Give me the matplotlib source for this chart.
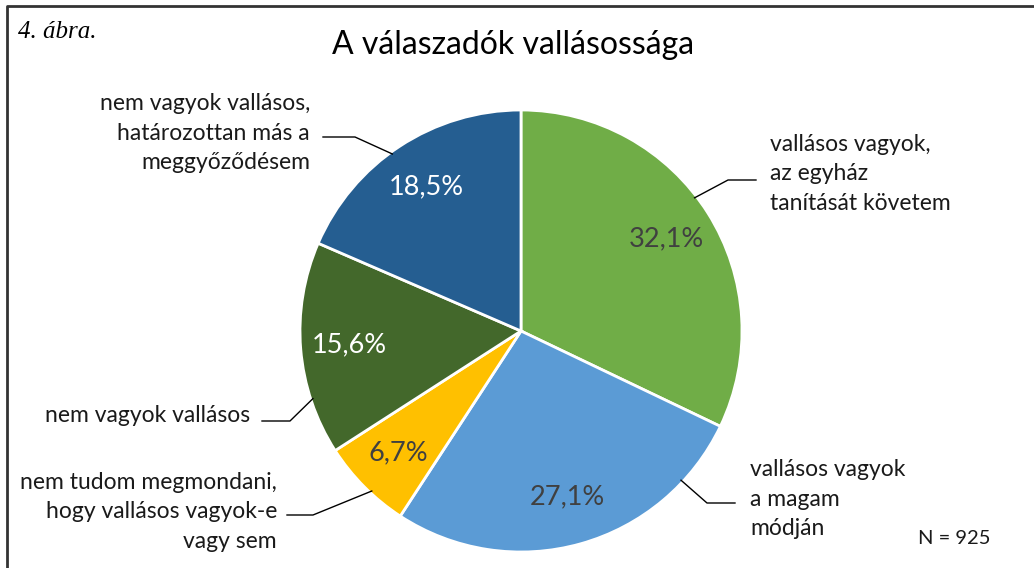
import matplotlib.pyplot as plt
import numpy as np

# data
labels = ['vallásos vagyok,\naz egyház\ntanítását követem',
          'vallásos vagyok\na magam\nmódján',
          'nem tudom megmondani,\nhogy vallásos vagyok-e\nvagy sem',
          'nem vagyok vallásos',
          'nem vagyok vallásos,\nhatározottan más a\nmeggyőződésem']
values = [32.1, 27.1, 6.7, 15.6, 18.5]
colors = ['#70AD47', '#5B9BD5', '#FFC000', '#43682B', '#255E91']
pct_colors = ['#404040', '#404040', '#404040', 'white', 'white']
title = 'A válaszadók vallásossága'
n_text = 'N = 925'

# layout (pixel coords, y measured from top)
W, H = 1034, 568
cx, cy, R = 521, 331, 221
anchor_ang = [37.5, -43, -133, -162, 126]          # where leader lines touch the pie
elbows = [(728, 180, 756), (707, 503, 735), (313, 515, 287), (290, 421, 262), (355, 137, 323)]
text_pos = [(770, 174, 'left'), (750, 499, 'left'), (277, 512, 'right'),
            (250, 415, 'right'), (310, 133, 'right')]

plt.rcParams['font.family'] = ['Lato', 'DejaVu Sans']

fig = plt.figure(figsize=(W / 100, H / 100), dpi=100)
ax = fig.add_axes([0, 0, 1, 1])

wedges, texts, autotexts = ax.pie(
    values, colors=colors, startangle=90, counterclock=False,
    center=(cx, H - cy), radius=R, frame=True,
    autopct=lambda p: f'{p:.1f}%'.replace('.', ','), pctdistance=0.78,
    wedgeprops=dict(edgecolor='white', linewidth=2),
    textprops=dict(fontsize=19.5))
ax.set_xlim(0, W)
ax.set_ylim(0, H)
ax.set_aspect('equal')
ax.axis('off')
for t, c in zip(autotexts, pct_colors):
    t.set_color(c)

for lab, a, (ex, ey, hx), (tx, ty, ha) in zip(labels, anchor_ang, elbows, text_pos):
    r = np.deg2rad(a)
    sx, sy = cx + R * 0.99 * np.cos(r), cy - R * 0.99 * np.sin(r)
    ax.plot([sx, ex, hx], [H - sy, H - ey, H - ey], color='black', lw=1)
    ax.text(tx, H - ty, lab, ha=ha, va='center', fontsize=16.5, color='#1a1a1a',
            multialignment=ha, linespacing=1.5)

ax.text(513, H - 45, title, ha='center', va='center', fontsize=23, color='black')
ax.text(18, H - 32, '4. ábra.', ha='left', va='center', fontsize=18,
        style='italic', family='Liberation Serif')
ax.text(918, H - 538, n_text, ha='left', va='center', fontsize=14.5, color='#1a1a1a')

# frame
ax.plot([7, 7, W], [0, H - 6, H - 6], color='#333333', lw=2, clip_on=False)

fig.savefig('out.png', dpi=100)
